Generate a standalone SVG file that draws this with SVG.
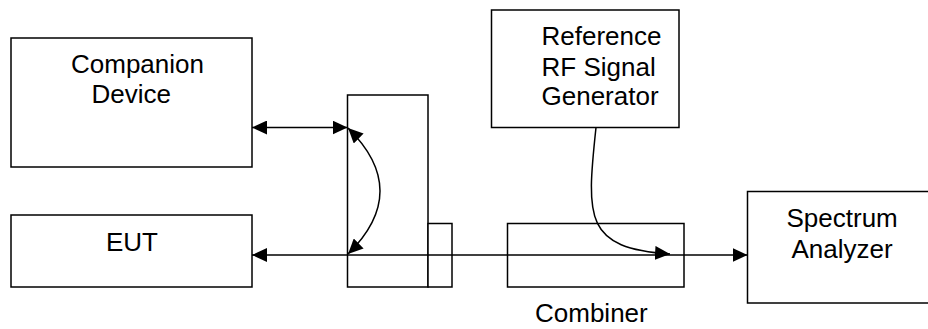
<svg xmlns="http://www.w3.org/2000/svg" width="928" height="329" viewBox="0 0 928 329">
<style>
.box{fill:#fff;stroke:#000;stroke-width:1.5}
.lbl{font-family:"Liberation Sans",Arial,sans-serif;font-size:26px;fill:#000}
.ln{fill:none;stroke:#000;stroke-width:1.5}
</style>
<defs>
<marker id="ahb" viewBox="0 0 15 14" refX="15" refY="7" markerWidth="15" markerHeight="14" markerUnits="userSpaceOnUse" orient="auto-start-reverse">
<path d="M0,0 L15,7 L0,14 z" fill="#000"/>
</marker>
</defs>
<rect width="928" height="329" fill="#fff"/>
<g id="companion">
<rect class="box" x="11" y="38" width="241" height="129"/>
<text class="lbl" x="71" y="73">Companion</text>
<text class="lbl" x="91.5" y="103">Device</text>
</g>
<g id="eut">
<rect class="box" x="11" y="215" width="241" height="72"/>
<text class="lbl" x="106" y="251">EUT</text>
</g>
<g id="switch">
<rect class="box" x="347.5" y="95" width="80.5" height="192"/>
<rect class="box" x="428" y="223.5" width="24" height="63.5"/>
</g>
<g id="refgen">
<rect class="box" x="491.5" y="10" width="187.5" height="117.5"/>
<text class="lbl" x="541.5" y="45">Reference</text>
<text class="lbl" x="541.5" y="75.5">RF Signal</text>
<text class="lbl" x="541.5" y="105">Generator</text>
</g>
<g id="combiner">
<rect class="box" x="507.5" y="223.5" width="176.5" height="63.5"/>
<text class="lbl" x="535" y="322">Combiner</text>
</g>
<g id="analyzer">
<rect class="box" x="747.5" y="191.5" width="200" height="111.5"/>
<text class="lbl" x="786.5" y="227">Spectrum</text>
<text class="lbl" x="791.5" y="258">Analyzer</text>
</g>
<g id="connectors">
<line class="ln" x1="252" y1="127.5" x2="347.5" y2="127.5" marker-start="url(#ahb)" marker-end="url(#ahb)"/>
<path class="ln" d="M348,128 Q412,191 348,254" marker-start="url(#ahb)" marker-end="url(#ahb)"/>
<line class="ln" x1="252" y1="255" x2="747.5" y2="255" marker-start="url(#ahb)" marker-end="url(#ahb)"/>
<path class="ln" d="M596,127.5 C586,220 585,248 670,254" marker-end="url(#ahb)"/>
</g>
</svg>
